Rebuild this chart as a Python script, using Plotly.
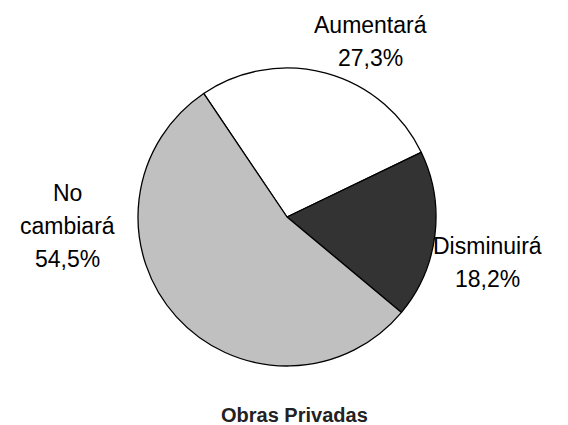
import plotly.graph_objects as go

labels = ["Aumentará", "Disminuirá", "No cambiará"]
label_lines = [["Aumentará", "27,3%"], ["Disminuirá", "18,2%"], ["No", "cambiará", "54,5%"]]
values = [27.3, 18.2, 54.5]
colors = ["#ffffff", "#333333", "#c0c0c0"]
title = "Obras Privadas"

W, H = 568, 425
cx, cy, r = 287, 217, 149

fig = go.Figure(go.Pie(
    labels=labels,
    values=values,
    sort=False,
    direction="clockwise",
    rotation=-34,
    marker=dict(colors=colors, line=dict(color="#000000", width=1.3)),
    textposition="none",
    hoverinfo="label+percent",
    showlegend=False,
    domain=dict(x=[(cx - r) / W, (cx + r) / W], y=[1 - (cy + r) / H, 1 - (cy - r) / H]),
))

# label anchor (center x, first-line center y), line spacing 33 px
label_pos = [(370, 25), (487, 246), (67, 193)]
font = dict(family="Liberation Sans, Arial, sans-serif", size=23, color="#000000")
for (x, y), lines in zip(label_pos, label_lines):
    for i, line in enumerate(lines):
        fig.add_annotation(
            x=x / W, y=1 - (y + 33 * i) / H, xref="paper", yref="paper",
            text=line, showarrow=False,
            xanchor="center", yanchor="middle", align="center", font=font,
        )

fig.add_annotation(
    x=294 / W, y=1 - 415 / H, xref="paper", yref="paper",
    text=f"<b>{title}</b>", showarrow=False, xanchor="center", yanchor="middle",
    font=dict(family="Liberation Sans, Arial, sans-serif", size=20, color="#222222"),
)

fig.update_layout(
    width=W, height=H,
    margin=dict(l=0, r=0, t=0, b=0),
    paper_bgcolor="#ffffff", plot_bgcolor="#ffffff",
)

fig.write_html(
    "out.html",
    config={"displayModeBar": False},
    post_script="document.body.style.margin='0px';document.body.style.overflow='hidden';",
)
